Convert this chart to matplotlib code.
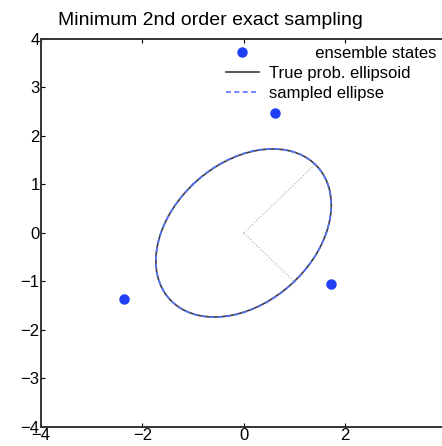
import numpy as np
import matplotlib
matplotlib.use("Agg")
import matplotlib.pyplot as plt

plt.rcParams['font.family'] = ['Liberation Sans', 'DejaVu Sans']

# ensemble members
ens_x = [0.63, -2.37, 1.72]
ens_y = [2.47, -1.36, -1.05]

# true covariance of the distribution
true_cov = np.array([[3.0, 1.0],
                     [1.0, 3.0]])

title = 'Minimum 2nd order exact sampling'
x_ticks = [-4, -2, 0, 2]
y_ticks = [-4, -3, -2, -1, 0, 1, 2, 3, 4]


def ellipse_points(cov, n=400):
	vals, vecs = np.linalg.eigh(cov)
	t = np.linspace(0, 2*np.pi, n)
	circle = np.vstack([np.cos(t), np.sin(t)])
	pts = vecs @ np.diag(np.sqrt(vals)) @ circle
	return pts[0], pts[1]


ens = np.vstack([ens_x, ens_y])
ens = ens - ens.mean(axis=1, keepdims=True)
sample_cov = ens @ ens.T / ens.shape[1]

fig = plt.figure(figsize=(4.42, 4.46), dpi=100)
ax = fig.add_axes([0.0928, 0.0426, 0.9165, 0.870])

blue = '#1f3ff5'
ax.plot(ens_x, ens_y, linestyle='None', marker='o', markersize=6.5, color=blue,
		label='          ensemble states')
tx, ty = ellipse_points(true_cov)
ax.plot(tx, ty, color='#3a3a3a', linewidth=1.2, label='True prob. ellipsoid')
sx, sy = ellipse_points(sample_cov)
ax.plot(sx, sy, color='#5577ff', linewidth=1.2, linestyle=(0, (3, 2)), label='sampled ellipse')

# principal axes of the true ellipse
vals, vecs = np.linalg.eigh(true_cov)
for k in range(2):
	v = vecs[:, k]*np.sqrt(vals[k])
	if v[0] < 0:
		v = -v
	ax.plot([0, v[0]], [0, v[1]], color='#aaaaaa', linewidth=0.8, linestyle=':')

ax.set_xlim(-4, 4)
ax.set_ylim(-4, 4)
ax.set_xticks(x_ticks)
ax.set_yticks(y_ticks)
ax.tick_params(direction='in', length=3, labelsize=12, top=True, pad=1)
for s in ax.spines.values():
	s.set_linewidth(1.4)
	s.set_color('#333333')

ax.legend(loc='upper right', bbox_to_anchor=(1.005, 1.012), frameon=False, fontsize=12,
		  handlelength=2.0, handletextpad=0.6, labelspacing=0.3, borderaxespad=0.3)

fig.text(58/442, 1 - 25/446, title, fontsize=14, ha='left', va='baseline')

fig.savefig('out.png', dpi=100)
